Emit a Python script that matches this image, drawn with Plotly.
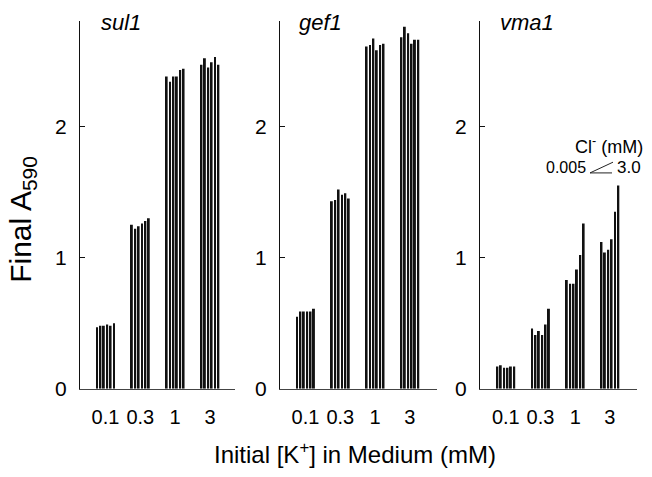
import plotly.graph_objects as go

# Initial K+ concentration in the medium (mM)
k_levels = ["0.1", "0.3", "1", "3"]

# Cl- concentrations (mM), one bar per level within each K+ group
cl_levels = ["0.005", "0.01", "0.03", "0.1", "0.3", "3.0"]

# Final A590 per strain: rows = K+ level, columns = Cl- level
sul1 = [
    [0.47, 0.48, 0.48, 0.49, 0.48, 0.50],
    [1.25, 1.22, 1.24, 1.26, 1.28, 1.30],
    [2.38, 2.34, 2.38, 2.38, 2.43, 2.44],
    [2.47, 2.52, 2.45, 2.49, 2.53, 2.47],
]
gef1 = [
    [0.55, 0.59, 0.59, 0.59, 0.59, 0.61],
    [1.43, 1.44, 1.52, 1.48, 1.49, 1.45],
    [2.61, 2.62, 2.67, 2.58, 2.62, 2.63],
    [2.68, 2.76, 2.71, 2.63, 2.66, 2.66],
]
vma1 = [
    [0.17, 0.18, 0.16, 0.16, 0.17, 0.17],
    [0.46, 0.41, 0.44, 0.41, 0.49, 0.61],
    [0.83, 0.80, 0.80, 0.91, 1.02, 1.26],
    [1.12, 1.04, 1.06, 1.14, 1.35, 1.55],
]

strains = ["sul1", "gef1", "vma1"]
panels = [sul1, gef1, vma1]

W, H = 652, 477
FONT = "Arial, Liberation Sans, sans-serif"

# panel frames in pixels (left, right) and x ranges
frames = [(80, 235), (280, 437), (480, 637)]
xranges = [[-0.733, 3.72], [-0.733, 3.78], [-0.744, 3.78]]
y_bottom, y_top = 398, 22

fig = go.Figure()

for p, (name, data) in enumerate(zip(strains, panels)):
    suffix = "" if p == 0 else str(p + 1)
    for j, cl in enumerate(cl_levels):
        fig.add_trace(go.Bar(
            x=k_levels,
            y=[row[j] for row in data],
            name=cl,
            marker=dict(color="#111111", line=dict(width=0)),
            showlegend=False,
            xaxis="x" + suffix,
            yaxis="y" + suffix,
            offsetgroup=str(j),
        ))

layout = dict(
    width=W, height=H, autosize=False,
    margin=dict(l=0, r=0, t=0, b=0),
    paper_bgcolor="white", plot_bgcolor="white",
    barmode="group", bargap=0.417, bargroupgap=0.43,
    font=dict(family=FONT, color="black"),
)

ydom = [1 - y_bottom / H, 1 - y_top / H]
for p in range(3):
    suffix = "" if p == 0 else str(p + 1)
    l, r = frames[p]
    layout["xaxis" + suffix] = dict(
        domain=[l / W, r / W], range=xranges[p],
        type="category", showline=True, linecolor="#444", linewidth=1,
        ticks="", showgrid=False, zeroline=False,
        tickfont=dict(size=20, family=FONT, color="black"),
        ticklabelstandoff=10,
        anchor="y" + suffix, fixedrange=True,
    )
    layout["yaxis" + suffix] = dict(
        domain=ydom, range=[0, 2.8],
        showline=True, linecolor="#111", linewidth=1,
        ticks="inside", ticklen=5, tickcolor="#111",
        tickvals=[0, 1, 2], ticktext=["0", "1", "2"],
        showgrid=False, zeroline=False,
        tickfont=dict(size=21, family=FONT, color="black"),
        ticklabelstandoff=8,
        anchor="x" + suffix, fixedrange=True,
    )

annotations = []
title_x = [121, 320, 527]
for name, cx in zip(strains, title_x):
    annotations.append(dict(
        text="<i>%s</i>" % name, xref="paper", yref="paper",
        x=cx / W, y=1 - 23 / H, showarrow=False,
        xanchor="center", yanchor="middle",
        font=dict(size=22, family=FONT, color="black"),
    ))

annotations.append(dict(
    text="Initial [K<sup>+</sup>] in Medium (mM)", xref="paper", yref="paper",
    x=355 / W, y=1 - 464 / H, showarrow=False,
    xanchor="center", yanchor="middle",
    font=dict(size=24, family=FONT, color="black"),
))
annotations.append(dict(
    text="Final A<sub>590</sub>", xref="paper", yref="paper",
    x=23 / W, y=1 - 225 / H, showarrow=False, textangle=-90,
    xanchor="center", yanchor="middle",
    font=dict(size=30, family=FONT, color="black"),
))

# Cl- gradient key
annotations.append(dict(
    text="Cl<sup>-</sup> (mM)", xref="paper", yref="paper",
    x=609 / W, y=1 - 149 / H, showarrow=False,
    xanchor="center", yanchor="middle",
    font=dict(size=18, family=FONT, color="black"),
))
annotations.append(dict(
    text=cl_levels[0], xref="paper", yref="paper",
    x=588 / W, y=1 - 171 / H, showarrow=False,
    xanchor="right", yanchor="middle",
    font=dict(size=16, family=FONT, color="black"),
))
annotations.append(dict(
    text=cl_levels[-1], xref="paper", yref="paper",
    x=615 / W, y=1 - 171 / H, showarrow=False,
    xanchor="left", yanchor="middle",
    font=dict(size=17, family=FONT, color="black"),
))
layout["annotations"] = annotations

layout["shapes"] = [
    dict(type="line", xref="paper", yref="paper",
         x0=590 / W, y0=1 - 177 / H, x1=613 / W, y1=1 - 166 / H,
         line=dict(color="#222", width=1)),
    dict(type="line", xref="paper", yref="paper",
         x0=590 / W, y0=1 - 177 / H, x1=612 / W, y1=1 - 177 / H,
         line=dict(color="#222", width=1)),
]

fig.update_layout(**layout)
fig.write_html("out.html")
